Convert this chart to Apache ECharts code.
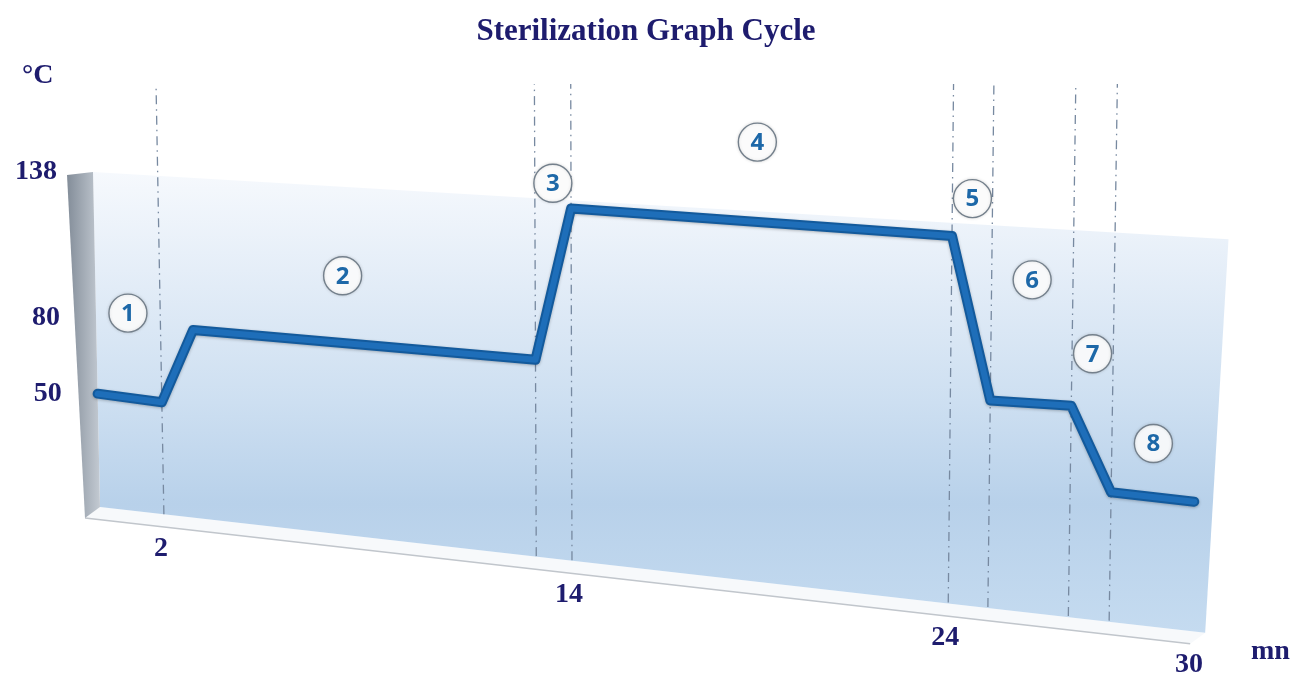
<!DOCTYPE html>
<html>
<head>
<meta charset="utf-8">
<title>Sterilization Graph Cycle</title>
<script src="https://cdn.jsdelivr.net/npm/echarts@6/dist/echarts.min.js"></script>
<style>
  html, body { margin: 0; padding: 0; background: #fff; }
  #chart-container { width: 1292px; height: 679px; }
</style>
</head>
<body>
<div id="chart-container"></div>
<script>
// cycle curve (minutes, °C)
var minutes = [0, 2, 3, 13, 14, 24, 25, 27, 28, 30];
var temps = [50, 49, 78.5, 78, 135, 133.5, 77, 77.5, 49, 48.5];

// phase boundaries (minutes) and the numbered phase badges
var phases = [0, 2, 13, 14, 24, 25, 27, 28, 30];
var phaseNames = ['1', '2', '3', '4', '5', '6', '7', '8'];
var badgeTemps = [83, 104, 144, 163, 147, 120, 96, 67];

// tick labels
var xTicks = [2, 14, 24, 30];
var yTicks = [50, 80, 138];

var navy = '#1e1c6e';
var serif = '"Liberation Serif", "DejaVu Serif", serif';

var dom = document.getElementById('chart-container');
var myChart = echarts.init(dom, null, { renderer: 'canvas' });

// perspective of the back wall: the time axis gets wider to the right,
// top and bottom edges slope down
var K = -0.13;
var TOP_SLOPE = 0.0603;
var BOT_SLOPE = 0.1126;
var LEAN = 14;

function warp(p, cs) {
  var u = (p[0] - cs.x) / cs.width;
  var v = (p[1] - cs.y) / cs.height;
  var f = u * (1 + K) / (1 + K * u);
  var X = cs.x + f * cs.width;
  var top = cs.y + (X - cs.x) * TOP_SLOPE;
  var bot = cs.y + cs.height + (X - cs.x) * BOT_SLOPE;
  return [X + LEAN * (0.5 - f) * (v - 1), top + v * (bot - top)];
}

function proj(api, cs, t, T) {
  return warp(api.coord([t, T]), cs);
}

var tMax = 30.6;
var tMin = 5;
var tTop = 138;

var option = {
  backgroundColor: '#ffffff',
  animation: false,
  title: {
    text: 'Sterilization Graph Cycle',
    left: 'center',
    top: 11,
    textStyle: { fontFamily: serif, fontWeight: 'bold', fontSize: 31, color: navy }
  },
  grid: { left: 100, top: 172, width: 1092, height: 335 },
  xAxis: { type: 'value', min: 0, max: 30, show: false },
  yAxis: { type: 'value', min: tMin, max: tTop, show: false },
  graphic: [
    { type: 'text', left: 22, top: 62, style: { text: '°C', font: 'bold 28px ' + serif, fill: navy } },
    { type: 'text', left: 1251, top: 638, style: { text: 'mn', font: 'bold 28px ' + serif, fill: navy } }
  ],
  series: [
    {
      // wall, floor and side
      type: 'custom',
      silent: true,
      z: 1,
      data: [[0, tMin]],
      renderItem: function (params, api) {
        var cs = params.coordSys;
        var tl = proj(api, cs, 0, tTop), tr = proj(api, cs, tMax, tTop);
        var br = proj(api, cs, tMax, tMin), bl = proj(api, cs, 0, tMin);
        tr = [tr[0] + 4, tr[1]];
        br = [br[0] - 12, br[1]];
        var d = [-15, 11];
        var fl = [bl[0] + d[0], bl[1] + d[1]];
        var fr = [br[0] + d[0], br[1] + d[1]];
        return {
          type: 'group',
          children: [
            {
              type: 'polygon',
              shape: { points: [bl, br, fr, fl] },
              style: { fill: '#f7f9fb' }
            },
            {
              type: 'line',
              shape: { x1: fl[0], y1: fl[1], x2: fr[0], y2: fr[1] },
              style: { stroke: '#c1c6cc', lineWidth: 1.5 }
            },
            {
              type: 'polygon',
              shape: { points: [tl, tr, br, bl] },
              style: {
                fill: new echarts.graphic.LinearGradient(0, 0, 0, 1, [
                  { offset: 0, color: '#f6f9fd' },
                  { offset: 0.25, color: '#e2ecf7' },
                  { offset: 0.5, color: '#cddff1' },
                  { offset: 0.72, color: '#b8d1ea' },
                  { offset: 1, color: '#c5dbf0' }
                ])
              }
            },
            {
              type: 'polygon',
              shape: { points: [[tl[0] - 26, tl[1] + 3], tl, bl, fl] },
              style: {
                fill: new echarts.graphic.LinearGradient(0, 0, 1, 0, [
                  { offset: 0, color: '#838d99' },
                  { offset: 1, color: '#c3cad2' }
                ])
              }
            }
          ]
        };
      }
    },
    {
      // phase separators
      type: 'custom',
      silent: true,
      z: 2,
      data: phases.slice(1, -1).map(function (t) { return [t, tMin]; }),
      renderItem: function (params, api) {
        var cs = params.coordSys;
        var t = api.value(0);
        var b = proj(api, cs, t, tMin), a = proj(api, cs, t, tTop);
        var s = (84 - b[1]) / (a[1] - b[1]);
        return {
          type: 'line',
          shape: { x1: b[0], y1: b[1], x2: b[0] + s * (a[0] - b[0]), y2: 84 },
          style: { stroke: '#7789a0', lineWidth: 1.3, lineDash: [9, 5, 1.5, 5] }
        };
      }
    },
    {
      // temperature curve
      type: 'custom',
      silent: true,
      z: 3,
      data: minutes.map(function (m, i) { return [m, temps[i]]; }),
      renderItem: function (params, api) {
        if (params.dataIndex !== 0) return;
        var cs = params.coordSys;
        var pts = minutes.map(function (m, i) { return proj(api, cs, m, temps[i]); });
        return {
          type: 'group',
          children: [
            {
              type: 'polyline',
              shape: { points: pts },
              style: {
                fill: null, stroke: '#135a9c', lineWidth: 10, lineJoin: 'round', lineCap: 'round',
                shadowBlur: 3, shadowColor: 'rgba(0,0,0,0.25)', shadowOffsetY: 1
              }
            },
            {
              type: 'polyline',
              shape: { points: pts },
              style: { fill: null, stroke: '#1e6eb9', lineWidth: 6, lineJoin: 'round', lineCap: 'round' }
            }
          ]
        };
      }
    },
    {
      // phase badges
      type: 'custom',
      silent: true,
      z: 4,
      data: phaseNames.map(function (n, i) {
        return [(phases[i] + phases[i + 1]) / 2, badgeTemps[i]];
      }),
      renderItem: function (params, api) {
        var p = proj(api, params.coordSys, api.value(0), api.value(1));
        return {
          type: 'group',
          children: [
            {
              type: 'circle',
              shape: { cx: p[0], cy: p[1], r: 19 },
              style: {
                fill: 'rgba(255,255,255,0.88)', stroke: '#74808c', lineWidth: 1.4,
                shadowBlur: 3, shadowColor: 'rgba(0,0,0,0.15)'
              }
            },
            {
              type: 'text',
              x: p[0],
              y: p[1] + 1,
              style: {
                text: phaseNames[params.dataIndex],
                font: 'bold 24px "Open Sans", sans-serif',
                fill: '#1d68a8',
                align: 'center',
                verticalAlign: 'middle'
              }
            }
          ]
        };
      }
    },
    {
      // temperature tick labels
      type: 'custom',
      silent: true,
      z: 5,
      data: yTicks.map(function (v) { return [0, v]; }),
      renderItem: function (params, api) {
        var p = proj(api, params.coordSys, 0, api.value(1));
        return {
          type: 'text',
          x: p[0] - 36,
          y: p[1],
          style: {
            text: String(yTicks[params.dataIndex]),
            font: 'bold 28px ' + serif,
            fill: navy,
            align: 'right',
            verticalAlign: 'middle'
          }
        };
      }
    },
    {
      // minute tick labels
      type: 'custom',
      silent: true,
      z: 5,
      data: xTicks.map(function (t) { return [t, tMin]; }),
      renderItem: function (params, api) {
        var p = proj(api, params.coordSys, api.value(0), tMin);
        return {
          type: 'text',
          x: p[0] - 3,
          y: p[1] + 35,
          style: {
            text: String(xTicks[params.dataIndex]),
            font: 'bold 28px ' + serif,
            fill: navy,
            align: 'center',
            verticalAlign: 'middle'
          }
        };
      }
    }
  ]
};

myChart.setOption(option);
window.addEventListener('resize', myChart.resize);
</script>
</body>
</html>
